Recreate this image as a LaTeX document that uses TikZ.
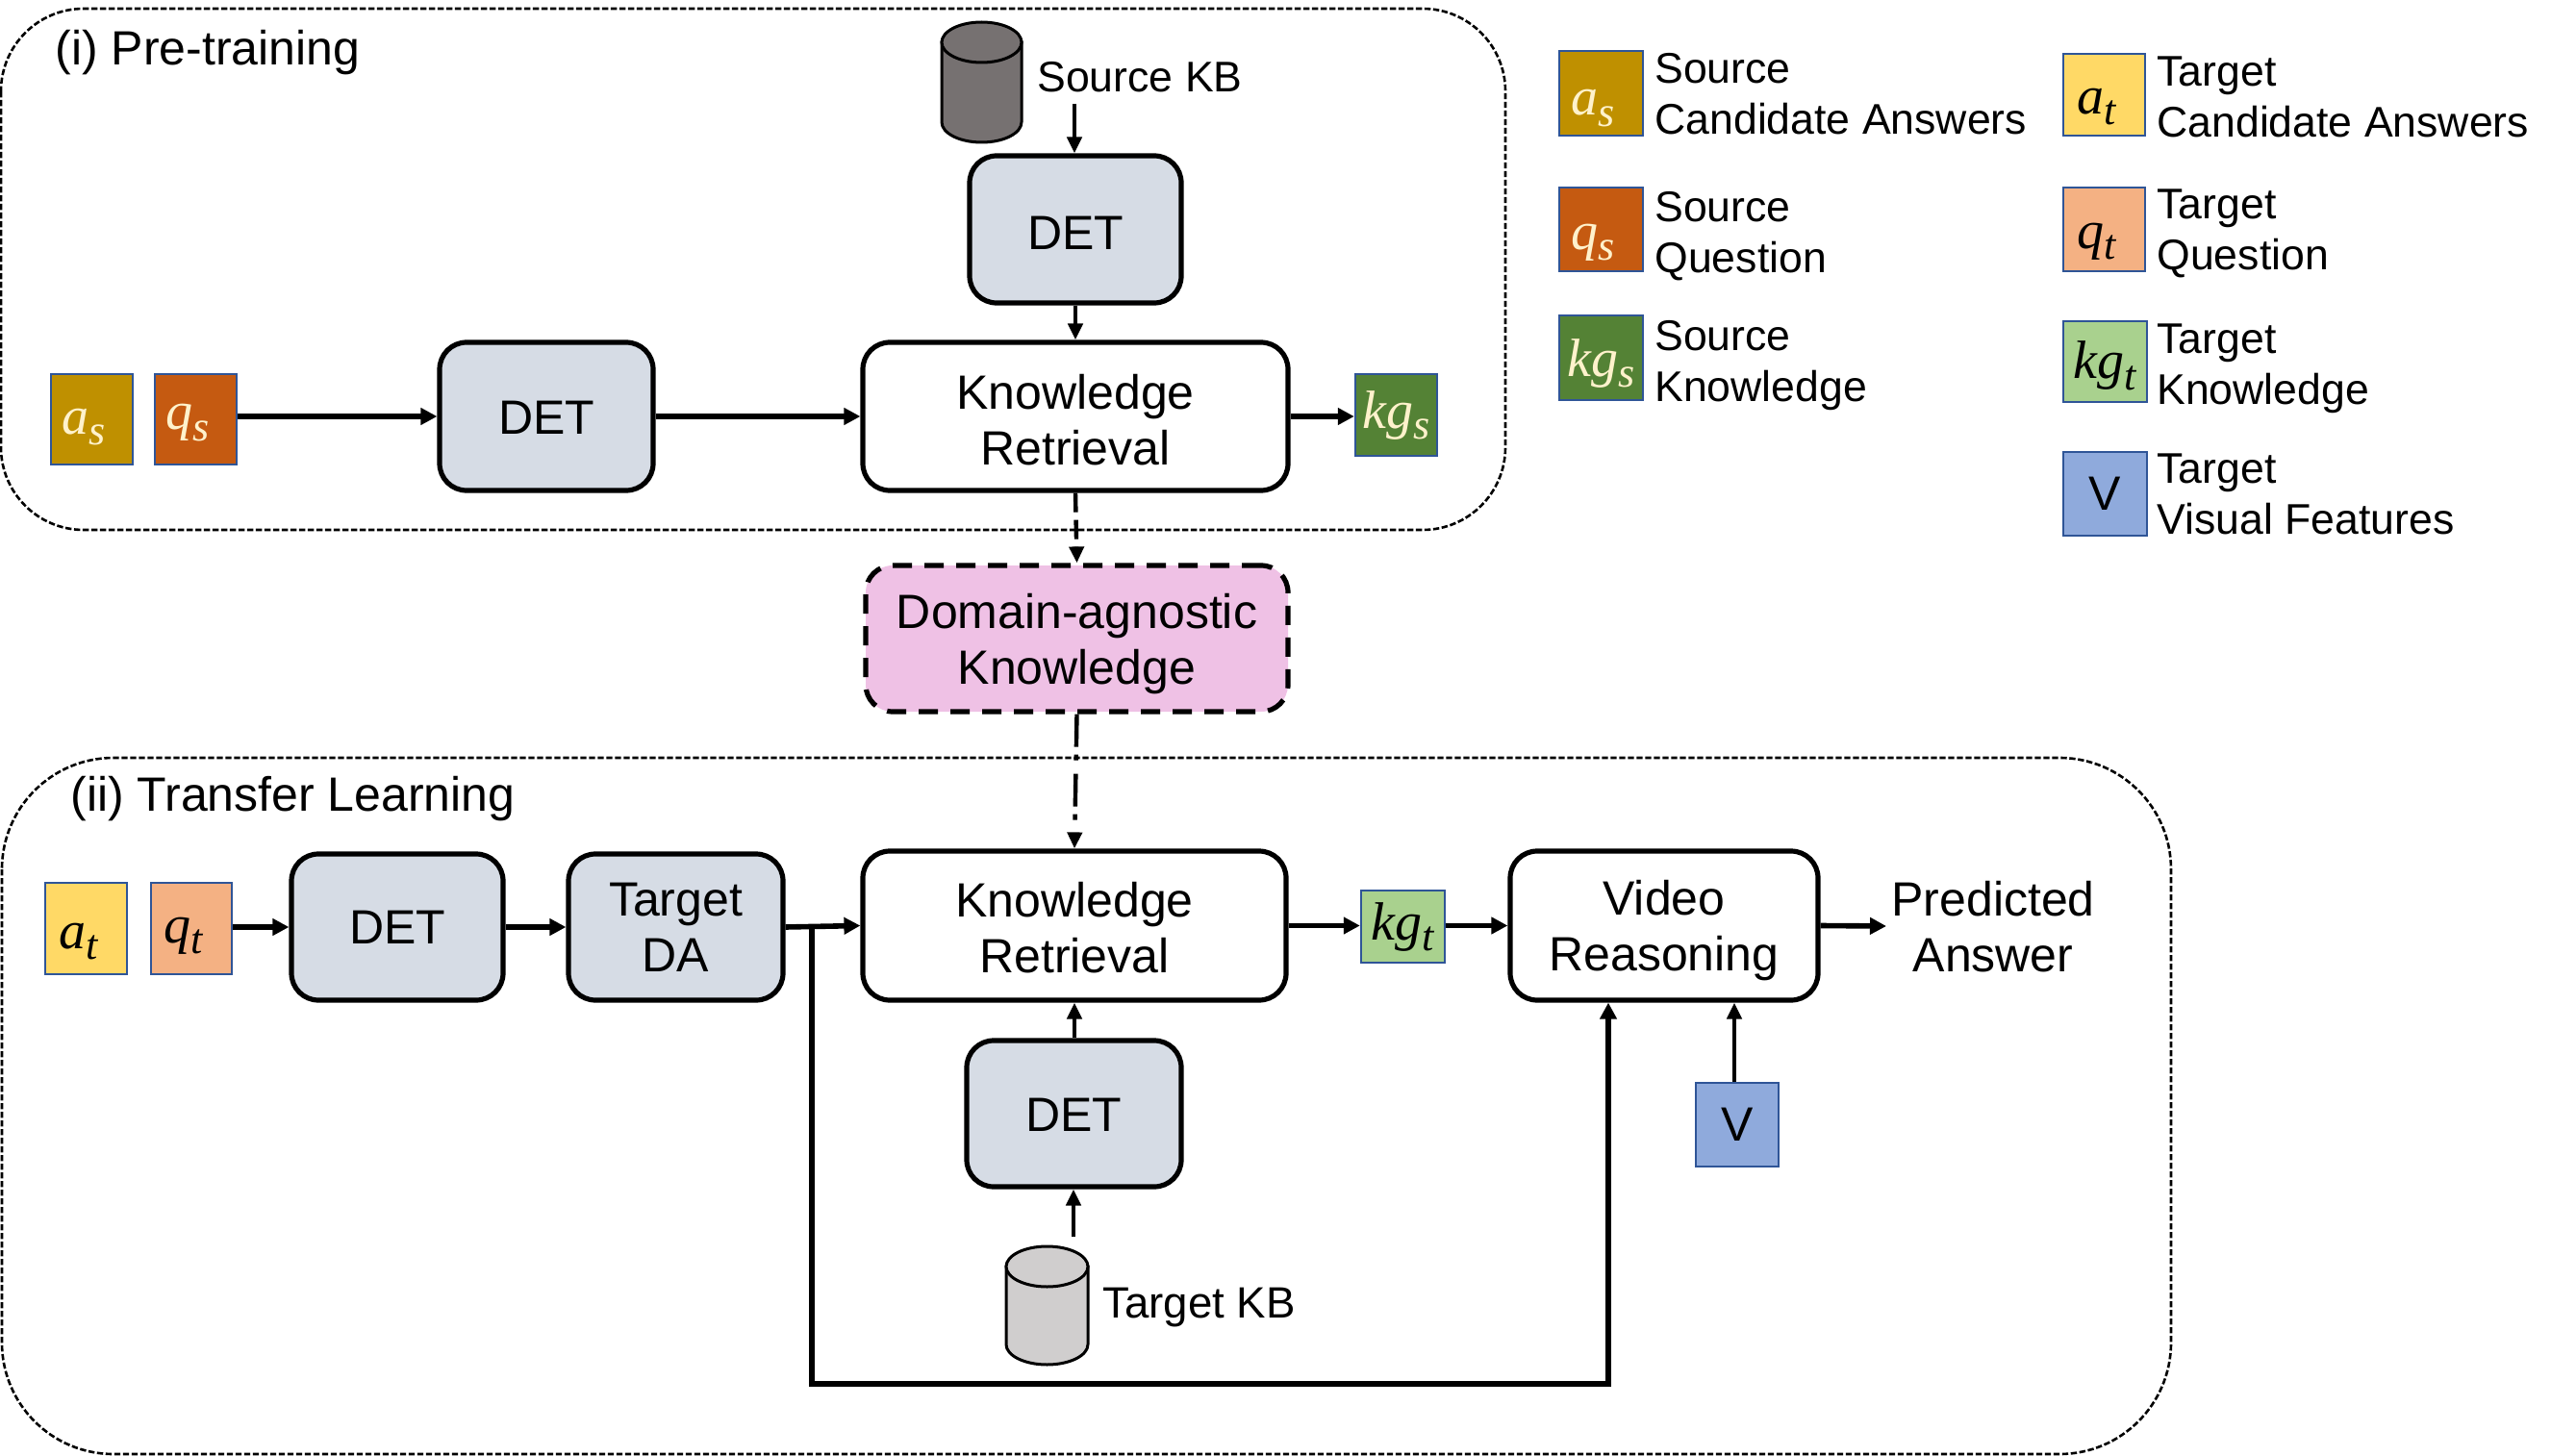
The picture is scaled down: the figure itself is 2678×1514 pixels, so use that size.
\documentclass[tikz,border=0pt]{standalone}
\usepackage{fontspec}
\setmainfont{Liberation Sans}
\newfontfamily\mvfont{Liberation Serif}
\usetikzlibrary{arrows.meta}
\definecolor{cdet}{HTML}{D6DCE5}
\definecolor{cas}{HTML}{BF9000}
\definecolor{cqs}{HTML}{C55A11}
\definecolor{ckgs}{HTML}{548235}
\definecolor{cat}{HTML}{FFD966}
\definecolor{cqt}{HTML}{F4B183}
\definecolor{ckgt}{HTML}{A9D18E}
\definecolor{cv}{HTML}{8FAADC}
\definecolor{cbord}{HTML}{2F5597}
\definecolor{cpink}{HTML}{EFC1E5}
\definecolor{cdark}{HTML}{767171}
\definecolor{clight}{HTML}{D0CECE}
\definecolor{clab}{HTML}{FFF2CC}
% \mv{dx}{dy}{body}{sub}: math-like italic label, shifted without altering the node
\newcommand{\mv}[4]{\hspace*{#1}\raisebox{#2}[0pt][0pt]{\mvfont\itshape\fontsize{28}{30}\selectfont #3\raisebox{-.2em}{\fontsize{22}{22}\selectfont #4}}\hspace*{-#1}}
% \tp{extra}{text}: adds height above a first line, which lowers the node's text by half of it
\newcommand{\tp}[2]{\raisebox{0pt}[\dimexpr\height+#1\relax]{#2}}
% \bx{name}{style}{x1}{y1}{x2}{y2}{text}: node whose outer edges lie at the given pixels
\newcommand{\bx}[7]{%
  \pgfmathsetmacro{\bxcx}{(#3+#5)/2}\pgfmathsetmacro{\bxcy}{(#4+#6)/2}%
  \pgfmathsetmacro{\bxw}{(#5-#3)/2}\pgfmathsetmacro{\bxh}{(#6-#4)/2}%
  \node[#2,minimum width=\bxw pt,minimum height=\bxh pt] (#1) at (\bxcx,\bxcy) {#7};}
% \cyl{name}{colour}{x1}{y1}{x2}{y2}: can whose outer edges lie at the given pixels
\newcommand{\cyl}[6]{%
  \pgfmathsetmacro{\bxcx}{(#3+#5)/2}\pgfmathsetmacro{\bxcy}{(#4+#6)/2}%
  \pgfmathsetmacro{\bxw}{(#5-#3)/2}\pgfmathsetmacro{\bxh}{(#6-#4)/2}%
  \pgfmathsetmacro{\bxrx}{(#5-#3)/2}%
  \node[inner sep=0pt,minimum width=\bxw pt,minimum height=\bxh pt] (#1) at (\bxcx,\bxcy) {};
  \draw[kbline,fill=#2] (#3,#4+21) -- (#3,#6-21) arc[start angle=180,end angle=0,x radius=\bxrx,y radius=21]
     -- (#5,#4+21) -- cycle;
  \draw[kbline,fill=#2] (\bxcx,#4+21) ellipse[x radius=\bxrx,y radius=21];}
\tikzset{
  px/.style={x=0.5pt,y=-0.5pt},
  frame/.style={draw=black,line width=1.3pt,dash pattern=on 3.2pt off 1.3pt,rounded corners=#1},
  detbox/.style={draw=black,line width=2.6pt,fill=cdet,rounded corners=14pt,align=center,inner sep=0pt,
    text depth=0pt,font=\fontsize{25}{29}\selectfont},
  whitebox/.style={detbox,fill=white},
  pinkbox/.style={detbox,fill=cpink,dash pattern=on 10pt off 6.5pt},
  square/.style={draw=cbord,line width=1.2pt,inner sep=0pt,font=\fontsize{25}{29}\selectfont},
  title/.style={anchor=west,inner sep=0pt,font=\fontsize{25}{29}\selectfont},
  label/.style={anchor=west,inner sep=0pt,align=left,font=\fontsize{22.3}{26.5}\selectfont},
  plain/.style={inner sep=0pt,align=center,font=\fontsize{25}{29}\selectfont},
  conn/.style={line width=2.8pt,-{Triangle[length=8.5pt,width=8.5pt]},line join=miter},
  thinconn/.style={line width=2.2pt,-{Triangle[length=8.5pt,width=7.5pt]}},
  dashconn/.style={thinconn,dash pattern=on 10pt off 4pt},
  dotconn/.style={thinconn,dash pattern=on 17pt off 4pt on 3pt off 7pt},
  kbline/.style={draw=black,line width=1.5pt},
}
\begin{document}
\begin{tikzpicture}[px]
\useasboundingbox (0,0) rectangle (2678,1514);
% frames
\draw[frame=43pt] (1,9) rectangle (1565,551);
\draw[frame=58pt] (2,788) rectangle (2257,1512);
\node[title] (t1) at (57,55) {(i) Pre-training};
\node[title] (t2) at (73,831) {(ii) Transfer Learning};
% upper part
\cyl{skb}{cdark}{979}{23}{1062}{148}
\node[label] (skbl) at (1078,80) {Source KB};
\coordinate (skbo) at (1117,108);
\bx{det1}{detbox}{1008}{162}{1228}{315}{\tp{3.4pt}{DET}}
\bx{kr1}{whitebox}{897}{356}{1339}{510}{\tp{3.4pt}{Knowledge}\\Retrieval}
\bx{det2}{detbox}{457}{356}{679}{510}{\tp{1.7pt}{DET}}
\bx{as}{square,fill=cas,text=clab}{53}{389}{138}{483}{\mv{-4pt}{-7.5pt}{a}{s}}
\bx{qs}{square,fill=cqs,text=clab}{161}{389}{246}{483}{\mv{-4pt}{-5.5pt}{q}{s}}
\bx{kgs}{square,fill=ckgs,text=clab}{1409}{389}{1494}{474}{\mv{0pt}{-7pt}{kg}{s}}
\bx{dak}{pinkbox}{900}{588}{1339}{740}{Domain-agnostic\\Knowledge}
% lower part
\bx{at}{square,fill=cat}{47}{918}{132}{1013}{\mv{-4pt}{-10.5pt}{a}{t}}
\bx{qt}{square,fill=cqt}{157}{918}{241}{1013}{\mv{-4pt}{-7.5pt}{q}{t}}
\bx{det3}{detbox}{303}{888}{523}{1040}{DET}
\bx{da}{detbox}{591}{888}{814}{1040}{Target\\DA}
\bx{kr2}{whitebox}{897}{885}{1337}{1040}{\tp{1.7pt}{Knowledge}\\Retrieval}
\bx{kgt}{square,fill=ckgt}{1415}{926}{1502}{1001}{\mv{0pt}{-7pt}{kg}{t}}
\bx{vr}{whitebox}{1570}{885}{1890}{1040}{Video\\Reasoning}
\node[plain] (pred) at (2072,964) {Predicted\\Answer};
\bx{v}{square,fill=cv}{1763}{1126}{1849}{1213}{V}
\bx{det4}{detbox}{1005}{1082}{1228}{1234}{\tp{1.7pt}{DET}}
\cyl{tkb}{clight}{1046}{1296}{1131}{1419}
\node[label,font=\fontsize{22.8}{26.5}\selectfont] (tkbl) at (1146,1360) {Target KB};
\coordinate (tkbo) at (1116,1286);
\coordinate (fbt) at (844,963);
\coordinate (fbb) at (1672,1439);
\coordinate (prein) at (1961,963);
% connectors
\draw[thinconn] (skbo) -- (skbo |- det1.north);
\draw[thinconn] (det1.south -| kr1.north) -- (kr1.north);
\draw[conn] (qs.east |- det2.west) -- (det2.west);
\draw[conn] (det2.east) -- (kr1.west);
\draw[conn] (kr1.east) -- (kr1.east -| kgs.west);
\draw[dashconn] (kr1.south) -- (dak.north);
\draw[dotconn] (dak.south) -- (kr2.north);
\draw[conn] (qt.east |- det3.west) -- (det3.west);
\draw[conn] (det3.east) -- (da.west);
\draw[conn] (da.east) -- (kr2.west);
\draw[conn] (kr2.east) -- (kgt.west |- kr2.east);
\draw[conn] (kgt.east |- vr.west) -- (vr.west);
\draw[conn] (vr.east) -- (prein);
\draw[conn] (fbt) |- (fbb) -- (fbb |- vr.south);
\draw[thinconn] (v.north) ++(-3,0) -- ([xshift=-1.5pt]vr.south -| v.north);
\draw[thinconn] (det4.north -| kr2.south) -- (kr2.south);
\draw[thinconn] (tkbo) -- (tkbo |- det4.south);
% legend
\bx{las}{square,fill=cas,text=clab}{1621}{53}{1708}{141}{\mv{-4pt}{-11.5pt}{a}{s}}
\bx{lqs}{square,fill=cqs,text=clab}{1621}{195}{1708}{282}{\mv{-4pt}{-10.5pt}{q}{s}}
\bx{lkgs}{square,fill=ckgs,text=clab}{1621}{328}{1708}{416}{\mv{0pt}{-9.5pt}{kg}{s}}
\bx{lat}{square,fill=cat}{2145}{56}{2230}{141}{\mv{-4pt}{-10pt}{a}{t}}
\bx{lqt}{square,fill=cqt}{2145}{195}{2230}{282}{\mv{-4pt}{-10pt}{q}{t}}
\bx{lkgt}{square,fill=ckgt}{2145}{334}{2232}{418}{\mv{0pt}{-9pt}{kg}{t}}
\bx{lv}{square,fill=cv}{2145}{470}{2232}{557}{V}
\node[label] (tas) at (1720,98) {Source\\Candidate Answers};
\node[label] (tqs) at (1720,246) {Source\\Question};
\node[label] (tkgs) at (1720,380) {Source\\Knowledge};
\node[label] (tat) at (2242,101) {Target\\Candidate Answers};
\node[label] (tqt) at (2242,243) {Target\\Question};
\node[label] (tkgt) at (2242,383) {Target\\Knowledge};
\node[label] (tv) at (2242,514) {Target\\Visual Features};
\end{tikzpicture}
\end{document}
